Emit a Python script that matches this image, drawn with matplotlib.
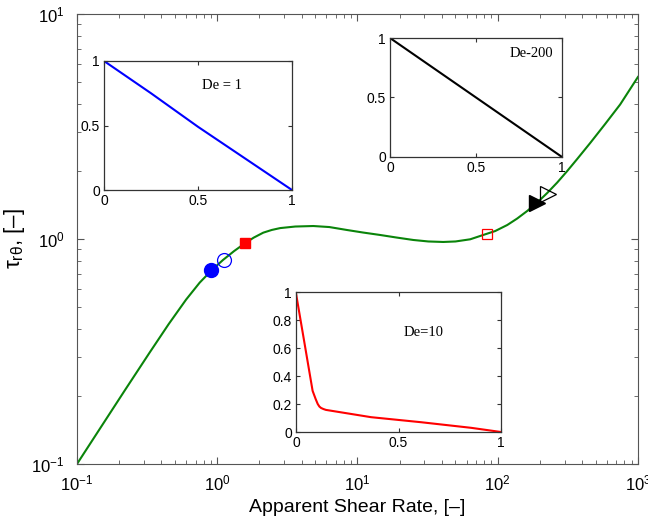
import matplotlib
matplotlib.use("Agg")
import matplotlib.pyplot as plt
import numpy as np

plt.rcParams['font.family'] = ['Liberation Sans', 'DejaVu Sans']
plt.rcParams['mathtext.fontset'] = 'custom'
plt.rcParams['mathtext.rm'] = 'Liberation Sans'
plt.rcParams['mathtext.it'] = 'Liberation Sans:italic'
plt.rcParams['mathtext.sf'] = 'Liberation Sans'

# flow curve, shear stress vs apparent shear rate
shear_rate = [0.1, 0.15, 0.22, 0.33, 0.45, 0.6, 0.75, 0.92, 1.1, 1.32,
              1.58, 1.82, 2.13, 2.45, 2.81, 3.6, 4.84, 6.3, 8.45, 11.0,
              14.5, 19.0, 25.0, 32.0, 40.9, 50.0, 63.7, 78.8, 96.0, 117,
              137.7, 162.3, 191.3, 225.4, 265.6, 313.1, 368.9, 457, 584, 747, 1000]
stress = [0.1, 0.1476, 0.2131, 0.3131, 0.418, 0.538, 0.64, 0.73, 0.807, 0.884,
          0.958, 1.014, 1.067, 1.097, 1.118, 1.136, 1.142, 1.13, 1.096, 1.068,
          1.042, 1.015, 0.99, 0.975, 0.97, 0.975, 0.997, 1.042, 1.085, 1.154,
          1.233, 1.332, 1.452, 1.601, 1.782, 2.005, 2.268, 2.673, 3.246, 3.963, 5.25]

# operating points marked on the curve
pt_filled_circle = (0.906, 0.728)
pt_open_circle = (1.12, 0.806)
pt_filled_square = (1.58, 0.96)
pt_open_square = (84.0, 1.05)
pt_filled_tri = (191, 1.445)
pt_open_tri = (229, 1.585)

# velocity profiles for the three Deborah numbers
r_de1 = [0, 0.25, 0.5, 0.75, 1.0]
u_de1 = [1.0, 0.75, 0.49, 0.245, 0.0]

r_de200 = [0, 1.0]
u_de200 = [1.0, 0.0]

r_de10 = [0, 0.04, 0.081, 0.096, 0.106, 0.114, 0.122, 0.134, 0.146, 0.366, 0.61, 0.854, 1.0]
u_de10 = [0.99, 0.647, 0.294, 0.235, 0.2, 0.182, 0.172, 0.164, 0.158, 0.106, 0.07, 0.03, 0.0]

green = '#0a840a'
axis_grey = '#555555'

fig = plt.figure(figsize=(6.48, 5.20), dpi=100)
ax = fig.add_axes([0.1188, 0.1077, 0.8657, 0.8654])

ax.loglog(shear_rate, stress, color=green, lw=1.5)
ax.plot(*pt_filled_circle, 'o', color='blue', ms=10)
ax.plot(*pt_open_circle, 'o', mfc='none', mec='blue', ms=10, mew=0.9)
ax.plot(*pt_filled_square, 's', color='red', ms=7.5)
ax.plot(*pt_open_square, 's', mfc='none', mec='red', ms=7.5, mew=0.9)
ax.plot(*pt_filled_tri, '>', color='black', ms=11)
ax.plot(*pt_open_tri, '>', mfc='none', mec='black', ms=11, mew=0.9)

ax.set_xlim(0.1, 1000)
ax.set_ylim(0.1, 10)
ax.set_xlabel('Apparent Shear Rate, [–]', fontsize=14)
ax.set_ylabel(r'$\mathrm{\tau}_{\mathrm{r\theta}}$, [–]', fontsize=16)
ax.yaxis.set_label_coords(-0.089, 0.5)
ax.tick_params(which='both', direction='in', top=True, right=True,
               labelsize=12, color=axis_grey)
ax.tick_params(which='major', length=5)
ax.tick_params(which='minor', length=3)
ax.tick_params(axis='x', pad=7)
ax.tick_params(axis='y', pad=9)
for s in ax.spines.values():
    s.set_color(axis_grey)


def inset(rect, x, y, color, label, lx, ly, yticks):
    a = fig.add_axes(rect)
    a.plot(x, y, color=color, lw=1.5)
    a.set_xlim(0, 1)
    a.set_ylim(0, 1)
    a.set_xticks([0, 0.5, 1])
    a.set_xticklabels(['0', '0.5', '1'])
    a.set_yticks(yticks)
    a.set_yticklabels(['%g' % t for t in yticks])
    a.tick_params(direction='in', top=True, right=True, labelsize=10,
                  length=3, pad=3, color='#333333')
    for s in a.spines.values():
        s.set_color('#333333')
        s.set_linewidth(0.9)
    a.text(lx, ly, label, transform=a.transAxes, ha='center', va='center',
           fontsize=10.5, family='Liberation Serif')
    return a


inset([0.1605, 0.6346, 0.2901, 0.2481], r_de1, u_de1, 'blue',
      'De = 1', 0.63, 0.81, [0, 0.5, 1])
inset([0.6019, 0.6981, 0.2654, 0.2288], r_de200, u_de200, 'black',
      'De-200', 0.82, 0.87, [0, 0.5, 1])
inset([0.4568, 0.1692, 0.3164, 0.2692], r_de10, u_de10, 'red',
      'De=10', 0.62, 0.71, [0, 0.2, 0.4, 0.6, 0.8, 1])

fig.savefig('out.png', dpi=100)
